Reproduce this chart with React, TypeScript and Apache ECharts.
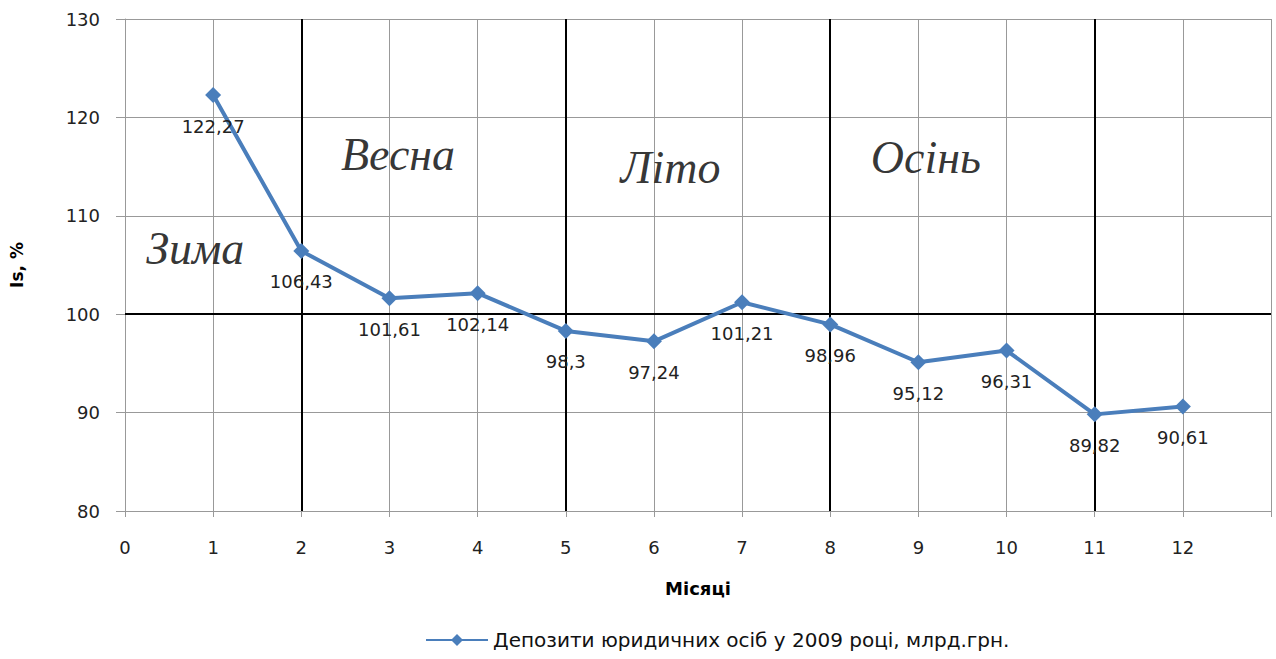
import React, { useEffect, useRef } from "react";
import * as echarts from "echarts";

const months = [1, 2, 3, 4, 5, 6, 7, 8, 9, 10, 11, 12];
const values = [122.27, 106.43, 101.61, 102.14, 98.3, 97.24, 101.21, 98.96, 95.12, 96.31, 89.82, 90.61];
const seasonLines = [2, 5, 8, 11];
const seasonLabels = ["Зима", "Весна", "Літо", "Осінь"];
const seasonLabelX = [0.24, 2.45, 5.62, 8.46];
const seasonLabelY = [106.7, 116.2, 114.9, 115.9];
const seriesName = "Депозити юридичних осіб у 2009 році, млрд.грн.";

export default function App() {
  const ref = useRef<HTMLDivElement>(null);
  useEffect(() => {
    const chart = echarts.init(ref.current!, null, { renderer: "svg" });
    const color = "#4a7ebb";
    chart.setOption({
      animation: false,
      grid: { left: 124, right: 5, top: 19, bottom: 148 },
      legend: {
        bottom: 4,
        left: 420,
        data: [seriesName],
        itemWidth: 62,
        itemHeight: 15,
        itemGap: 4,
        textStyle: { fontFamily: "DejaVu Sans", fontSize: 20, color: "#111" },
      },
      xAxis: {
        type: "value",
        min: 0,
        max: 13,
        interval: 1,
        name: "Місяці",
        nameLocation: "middle",
        nameGap: 68,
        nameTextStyle: { fontFamily: "DejaVu Sans", fontWeight: "bold", fontSize: 18, color: "#000" },
        axisLine: { show: true, lineStyle: { color: "#999", width: 1 } },
        axisTick: { show: true, length: 6, lineStyle: { color: "#999" } },
        axisLabel: {
          margin: 27,
          fontFamily: "DejaVu Sans",
          fontSize: 18,
          color: "#222",
          formatter: (v: number) => (v === 13 ? "" : String(v)),
        },
        splitLine: { show: true, lineStyle: { color: "#999", width: 1 } },
      },
      yAxis: {
        type: "value",
        min: 80,
        max: 130,
        interval: 10,
        name: "Is, %",
        nameLocation: "middle",
        nameGap: 100,
        nameRotate: 90,
        nameTextStyle: { fontFamily: "DejaVu Sans", fontWeight: "bold", fontSize: 17, color: "#000" },
        axisLine: { show: true, lineStyle: { color: "#999", width: 1 } },
        axisTick: { show: true, inside: false, length: 9, lineStyle: { color: "#999" } },
        axisLabel: { margin: 25, fontFamily: "DejaVu Sans", fontSize: 18, color: "#222" },
        splitLine: { show: true, lineStyle: { color: "#999", width: 1 } },
      },
      series: [
        {
          name: seriesName,
          type: "line",
          data: months.map((m, i) => [m, values[i]]),
          symbol: "diamond",
          symbolSize: 16,
          lineStyle: { color, width: 4 },
          itemStyle: { color },
          label: {
            show: true,
            position: "bottom",
            distance: 14,
            fontFamily: "DejaVu Sans",
            fontSize: 18,
            color: "#222",
            formatter: (p: any) => String(p.value[1]).replace(".", ","),
          },
          markLine: {
            silent: true,
            symbol: "none",
            label: { show: false },
            lineStyle: { color: "#000", width: 2, type: "solid" },
            data: [...seasonLines.map((x) => ({ xAxis: x })), { yAxis: 100 }],
          },
          z: 5,
        },
        {
          type: "scatter",
          silent: true,
          symbolSize: 0,
          data: seasonLabels.map((s, i) => [seasonLabelX[i], seasonLabelY[i], s]),
          label: {
            show: true,
            position: "right",
            distance: 0,
            formatter: (p: any) => p.value[2],
            fontFamily: "Liberation Serif",
            fontStyle: "italic",
            fontSize: 46,
            color: "#000",
          },
          z: 1,
        },
      ],
    });
    return () => chart.dispose();
  }, []);
  return <div ref={ref} style={{ width: 1276, height: 659, position: "absolute", left: 0, top: 0 }} />;
}
